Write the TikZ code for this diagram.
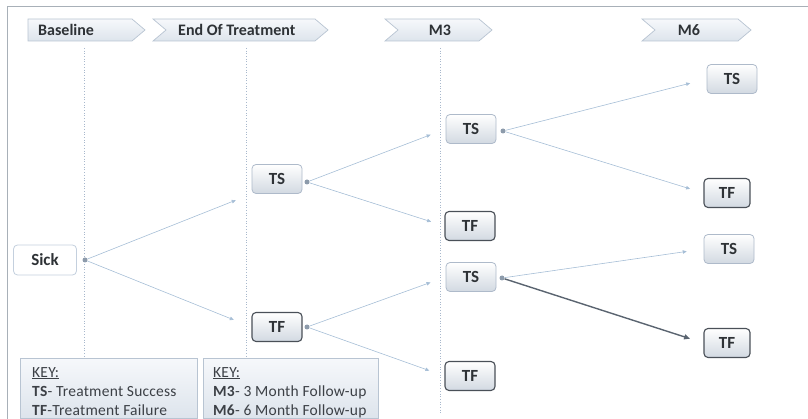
\documentclass[tikz,border=0pt]{standalone}
\usepackage{fontspec}
\setmainfont{Carlito}
\usetikzlibrary{arrows.meta,calc}
\definecolor{framec}{HTML}{A8B0B8}
\definecolor{hdrtop}{HTML}{F6F8FB}
\definecolor{hdrbot}{HTML}{DDE4EC}
\definecolor{hdrline}{HTML}{B8C4D2}
\definecolor{vline}{HTML}{A8B8CC}
\definecolor{nodebot}{HTML}{D2D9E2}
\definecolor{tsline}{HTML}{AEBACA}
\definecolor{tfline}{HTML}{4A5058}
\definecolor{sickline}{HTML}{C4D0DE}
\definecolor{connc}{HTML}{A6BED6}
\definecolor{darkc}{HTML}{5A6470}
\definecolor{dotc}{HTML}{8D9BAB}
\definecolor{txt}{HTML}{2E3236}
\definecolor{keytxt}{HTML}{3C4046}
\tikzset{
  hdrshape/.style={draw=hdrline, line width=0.7pt, top color=hdrtop, bottom color=hdrbot},
  hdrtxt/.style={font=\fontsize{16}{19}\selectfont\bfseries, text=txt, inner sep=0pt},
  tsbox/.style={draw=tsline, line width=0.8pt, rounded corners=4pt, top color=white,
    bottom color=nodebot, minimum width=50pt, minimum height=29pt,
    font=\fontsize{17}{20}\selectfont\bfseries, text=txt, inner sep=0pt},
  tfbox/.style={tsbox, draw=tfline, line width=1.1pt},
  sickbox/.style={tsbox, draw=sickline, fill=white, top color=white, bottom color=white,
    minimum width=63pt, minimum height=30pt},
  dotn/.style={circle, fill=dotc, inner sep=0pt, minimum size=5pt},
  conn/.style={draw=connc, line width=0.6pt, -{Triangle[length=4pt,width=3.5pt]}},
  darkconn/.style={draw=darkc, line width=1.4pt, -{Triangle[length=6pt,width=5pt]}},
  vdot/.style={draw=vline, line width=0.7pt, dotted},
  keybox/.style={draw=hdrline, line width=0.7pt, top color=hdrtop, bottom color=hdrbot,
    inner sep=0pt, anchor=north west, minimum height=60pt},
  keytext/.style={font=\fontsize{15.5}{19}\selectfont\addfontfeatures{LetterSpace=1.5}, text=keytxt, align=left,
    anchor=north west, inner sep=0pt}
}
\begin{document}
\begin{tikzpicture}[x=1pt,y=1pt]
\useasboundingbox (0,0) rectangle (808,-419);
% frame
\draw[framec, line width=0.8pt] (7,-419) -- (7,-6) -- (808,-6);
% vertical dotted lines
\draw[vdot] (84,-48) -- (84,-419);
\draw[vdot] (246,-48) -- (246,-419);
\draw[vdot] (440,-48) -- (440,-414);
% headers
\draw[hdrshape] (28,-19) -- (132,-19) -- (145,-30) -- (132,-41) -- (28,-41) -- cycle;
\draw[hdrshape] (153,-19) -- (315,-19) -- (328,-30) -- (315,-41) -- (153,-41) -- (166,-30) -- cycle;
\draw[hdrshape] (385,-19) -- (479,-19) -- (492,-30) -- (479,-41) -- (385,-41) -- (398,-30) -- cycle;
\draw[hdrshape] (642,-19) -- (738,-19) -- (751,-30) -- (738,-41) -- (642,-41) -- (655,-30) -- cycle;
\node[hdrtxt, anchor=west] (hb) at (38,-30) {Baseline};
\node[hdrtxt, anchor=west] (he) at (178,-30) {End Of Treatment};
\node[hdrtxt] (hm3) at (440,-30) {M3};
\node[hdrtxt] (hm6) at (689,-30) {M6};
% nodes
\node[sickbox] (sick) at (45,-260) {Sick};
\node[tsbox] (ts1) at (277,-179) {TS};
\node[tfbox] (tf1) at (277,-327) {TF};
\node[tsbox] (ts3) at (471,-129) {TS};
\node[tfbox] (tf3) at (470,-226) {TF};
\node[tsbox] (ts4) at (471,-277) {TS};
\node[tfbox] (tf4) at (470,-376) {TF};
\node[tsbox] (ts6) at (732,-79) {TS};
\node[tfbox, minimum width=46pt] (tf6) at (727,-193) {TF};
\node[tsbox] (ts7) at (729,-249) {TS};
\node[tfbox, minimum width=46pt] (tf7) at (727,-343) {TF};
% dots
\node[dotn] (d0) at (85,-260) {};
\node[dotn] (d1) at (307,-182) {};
\node[dotn] (d2) at (307,-327) {};
\node[dotn] (d3) at (503,-131) {};
\node[dotn] (d4) at (502,-278) {};
% connectors
\draw[conn, shorten >=17pt] (d0) -- (ts1.south west);
\draw[conn, shorten >=19pt] (d0) -- (tf1.west);
\draw[conn, shorten >=16pt] (d1) -- (ts3.west);
\draw[conn, shorten >=14pt] (d1) -- (tf3.west);
\draw[conn, shorten >=16pt] (d2) -- (ts4.west);
\draw[conn, shorten >=16pt] (d2) -- (tf4.west);
\draw[conn, shorten >=17pt] (d3) -- (ts6.west);
\draw[conn, shorten >=14pt] (d3) -- (tf6.west);
\draw[conn, shorten >=17pt] (d4) -- (ts7.west);
\draw[darkconn, shorten >=14pt] (d4) -- (tf7.west);
% keys
\node[keybox, minimum width=177pt] (key1) at (20,-358) {};
\node[keybox, minimum width=175pt] (key2) at (203,-358) {};
\node[keytext] (k1t) at (32,-367) {\underline{KEY:}\\ \textbf{TS}- Treatment Success\\ \textbf{TF}-Treatment Failure};
\node[keytext] (k2t) at (213,-367) {\underline{KEY:}\\ \textbf{M3}- 3 Month Follow-up\\ \textbf{M6}- 6 Month Follow-up};
\end{tikzpicture}
\end{document}
